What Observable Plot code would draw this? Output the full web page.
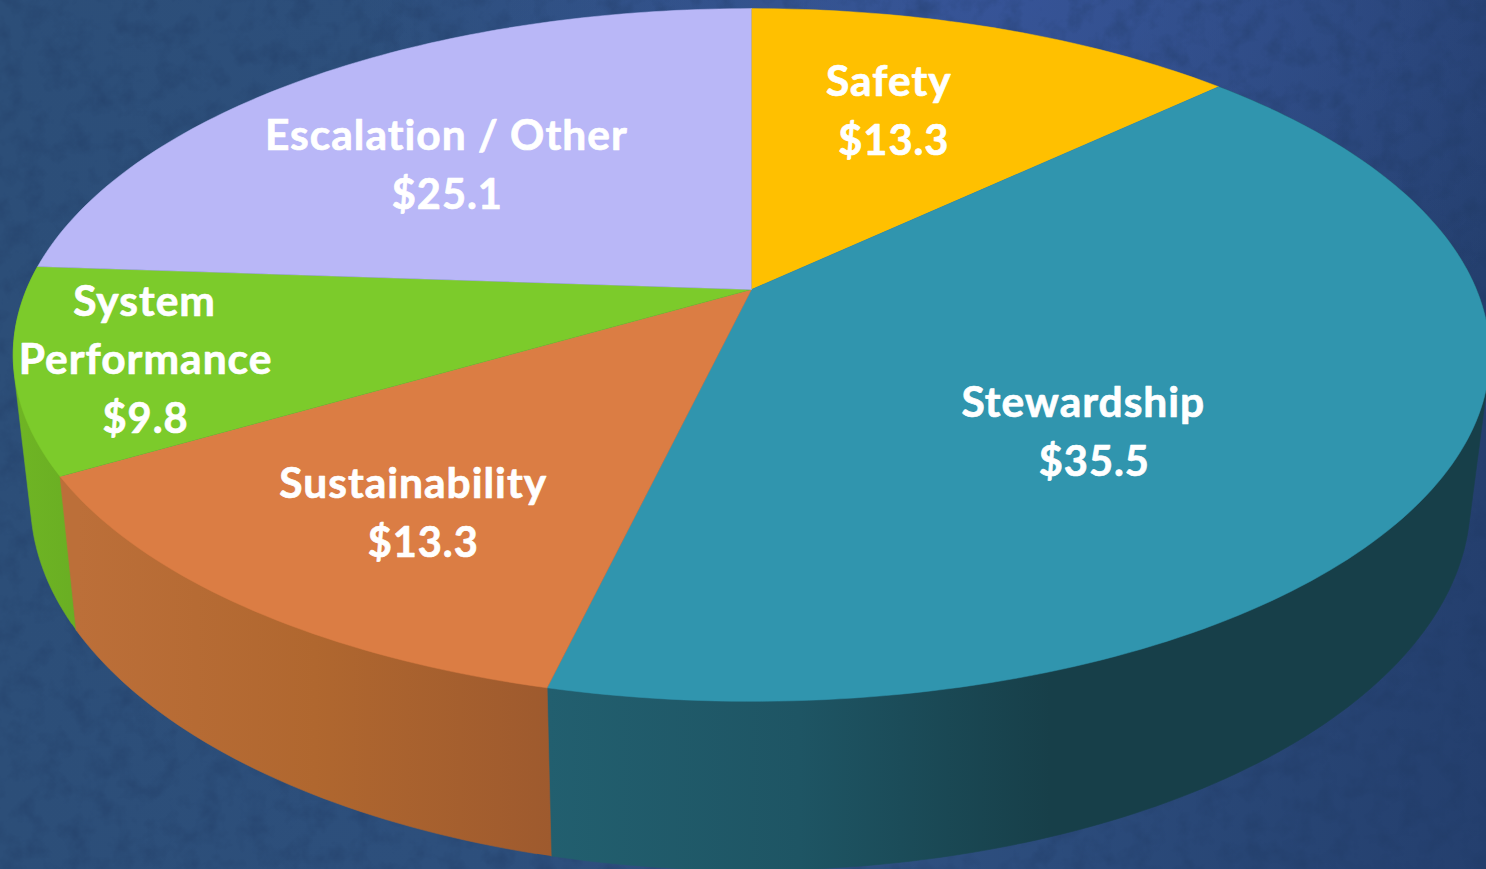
<!DOCTYPE html>
<html>
<head>
<meta charset="utf-8">
<script src="https://cdn.jsdelivr.net/npm/d3@7"></script>
<script src="https://cdn.jsdelivr.net/npm/@observablehq/plot@0.6"></script>
<style>
  html, body { margin: 0; padding: 0; width: 1486px; height: 869px; overflow: hidden; }
  body {
    background:
      radial-gradient(ellipse 620px 380px at 1000px 0px, rgba(58,86,160,.7), rgba(58,86,160,0) 100%),
      linear-gradient(180deg, rgba(36,58,112,.95) 0%, rgba(36,60,108,.8) 100%) right / 100% 100% no-repeat,
      #2c4e78;
    background-blend-mode: normal;
  }
  body::before {
    content: ""; position: absolute; inset: 0;
    background: linear-gradient(90deg, #2c4e78 0%, #2c4e78 58%, rgba(44,78,120,0) 100%);
    z-index: -1;
  }
  svg { display: block; }
</style>
</head>
<body>
<div id="chart"></div>
<script>
// Data
const categories = ["Safety", "Stewardship", "Sustainability", "System Performance", "Escalation / Other"];
const amounts = ["$13.3", "$35.5", "$13.3", "$9.8", "$25.1"];
// Sweep of each wedge as drawn, in degrees clockwise from 12 o'clock (the drawn wedges differ from the printed amounts)
const sweepDegrees = [46.7, 146.6, 46.3, 34.4, 86.0];
const titleLines = [["Safety"], ["Stewardship"], ["Sustainability"], ["System", "Performance"], ["Escalation / Other"]];

// Style and layout
const topColors = ["#FFC000", "#3095AE", "#DB7D44", "#7CCB2B", "#B9B7F7"];
const W = 1486, H = 869;
const k = 0.189;
const topFace = {x0: 751, y0: 289, A: 725, B: 334};
const baseFace = {x0: 750, y0: 430, A: 707, B: 356.8};
const project = (f, deg, r = 1) => {
  const a = deg * Math.PI / 180, u = r * Math.sin(a), s = -r * Math.cos(a), w = 1 - k * s;
  return {x: f.x0 + f.A * u / w, y: f.y0 + f.B * s / w};
};
const arc = (f, a0, a1) => d3.range(0, 1.0001, 1 / Math.max(2, Math.round(Math.abs(a1 - a0)))).map(t => project(f, a0 + (a1 - a0) * t));

let acc = 0;
const slices = categories.map((name, i) => {
  const start = acc; acc += sweepDegrees[i];
  return {name, start, end: acc, mid: (start + acc) / 2, i};
});

const topPoints = slices.flatMap(sl => [
  {name: sl.name, ...project(topFace, 0, 0)},
  ...arc(topFace, sl.start, sl.end).map(p => ({name: sl.name, ...p}))
]);

// A side wall is the convex hull of its top and base arcs, which gives the straight tangent edges at the sides
const wall = (a0, a1) => d3.polygonHull([...arc(topFace, a0, a1), ...arc(baseFace, a0, a1)].map(p => [p.x, p.y]))
  .map(([x, y]) => ({x, y}));

// Label placement in disc polar terms (fraction of radius), then nudges
const labelR = [0.65, 0.787, 0.7366, 0.883, 0.551];
const labelDx = [-28, -197, 24, 42, -51];
const lineNudge = [[-2.5, 2.5], [-5, 6], [-5, 5], [-1, 0, 0], [-1, 0]];
const lineGap = 58;
const labelRows = slices.flatMap((sl, i) => {
  const lines = [...titleLines[i], amounts[i]];
  const c = project(topFace, sl.mid, labelR[i]);
  return lines.map((text, j) => {
    const isAmount = j === lines.length - 1;
    return {
      text,
      size: isAmount ? 41.5 : 42.5,
      x: c.x + labelDx[i] + lineNudge[i][j],
      y: c.y + (isAmount ? 2 : 1) + (j - (lines.length - 1) / 2) * lineGap
    };
  });
});

const defsMark = () => {
  const g = d3.create("svg:g");
  const defs = g.append("defs");
  const grad = (id, x1, x2, stops) => {
    const lg = defs.append("linearGradient").attr("id", id).attr("gradientUnits", "userSpaceOnUse")
      .attr("x1", x1).attr("x2", x2).attr("y1", 0).attr("y2", 0);
    stops.forEach(([o, c]) => lg.append("stop").attr("offset", o).attr("stop-color", c));
  };
  grad("wallOrange", 77, 551, [[0, "#BC6F39"], [0.5, "#B0672F"], [1, "#9E5A2E"]]);
  grad("wallTeal", 546, 1050, [[0, "#225F6F"], [0.5, "#1E5564"], [1, "#173F49"]]);
  grad("wallGreen", 15, 78, [[0, "#6FB524"], [1, "#69AE23"]]);
  grad("backdrop", 0, W, [[0, "#2C4E78"], [0.6, "#2E5080"], [1, "#243F6E"]]);
  const f = defs.append("filter").attr("id", "grain").attr("x", 0).attr("y", 0).attr("width", "100%").attr("height", "100%")
    .attr("color-interpolation-filters", "sRGB");
  f.append("feTurbulence").attr("type", "fractalNoise").attr("baseFrequency", 0.045).attr("numOctaves", 4).attr("seed", 7);
  f.append("feColorMatrix").attr("type", "matrix")
    .attr("values", "0 0 0 0 0.12  0 0 0 0 0.22  0 0 0 0 0.38  0 0 0 1.6 -0.72");
  const glow = defs.append("radialGradient").attr("id", "glow").attr("gradientUnits", "userSpaceOnUse")
    .attr("cx", 0).attr("cy", 0).attr("r", 1)
    .attr("gradientTransform", `translate(1000 0) scale(640 400)`);
  glow.append("stop").attr("offset", 0).attr("stop-color", "#3A56A0").attr("stop-opacity", 0.75);
  glow.append("stop").attr("offset", 1).attr("stop-color", "#3A56A0").attr("stop-opacity", 0);
  g.append("rect").attr("width", W).attr("height", H).attr("fill", "url(#backdrop)");
  g.append("rect").attr("width", W).attr("height", H).attr("fill", "url(#glow)");
  g.append("rect").attr("width", W).attr("height", H).attr("filter", "url(#grain)").attr("opacity", 0.5);
  return g.node();
};

const wallMark = (a0, a1, fill) => Plot.line(wall(a0, a1), {x: "x", y: "y", fill, stroke: fill, strokeWidth: 0.6});

const chart = Plot.plot({
  width: W, height: H,
  margin: 0,
  style: {background: "transparent", overflow: "hidden"},
  x: {domain: [0, W], range: [0, W], axis: null},
  y: {domain: [0, H], range: [0, H], axis: null},
  color: {domain: categories, range: topColors},
  marks: [
    defsMark,
    wallMark(slices[3].start, slices[3].end, "url(#wallGreen)"),
    wallMark(slices[1].start, slices[1].end, "url(#wallTeal)"),
    wallMark(slices[2].start, slices[2].end, "url(#wallOrange)"),
    Plot.line(topPoints, {x: "x", y: "y", z: "name", fill: "name", stroke: "name", strokeWidth: 0.5}),
    Plot.text(labelRows, {
      x: "x", y: "y", text: "text", fill: "white", stroke: "white", strokeWidth: 0.7,
      textAnchor: "middle", lineAnchor: "middle",
      fontFamily: "Lato", fontWeight: 700, fontSize: "size"
    })
  ]
});
chart.querySelectorAll("text").forEach(t => t.style.letterSpacing = "1px");
document.getElementById("chart").append(chart);
</script>
</body>
</html>
